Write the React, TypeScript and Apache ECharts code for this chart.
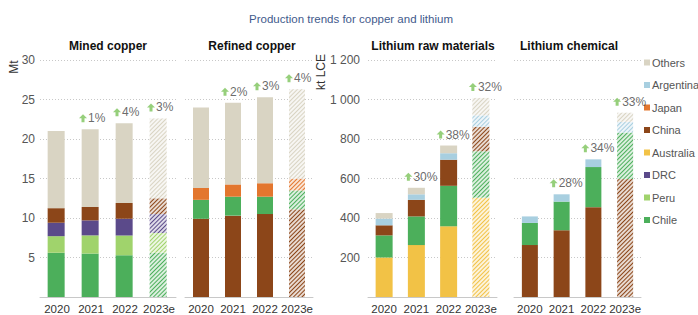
import React, { useEffect, useRef } from "react";
import * as echarts from "echarts";

const years = ["2020", "2021", "2022", "2023e"];

// Mined copper (Mt)
const minedChile = [5.6, 5.5, 5.3, 5.6];
const minedPeru = [2.1, 2.3, 2.5, 2.5];
const minedDRC = [1.7, 1.9, 2.1, 2.4];
const minedChina = [1.85, 1.7, 2.0, 2.0];
const minedOthers = [9.75, 9.85, 10.1, 10.1];
const minedGrowth = ["", "1%", "4%", "3%"];

// Refined copper (Mt)
const refinedChina = [9.9, 10.3, 10.5, 11.1];
const refinedChile = [2.4, 2.4, 2.2, 2.4];
const refinedJapan = [1.5, 1.55, 1.7, 1.5];
const refinedOthers = [10.2, 10.35, 10.9, 11.3];
const refinedGrowth = ["", "2%", "3%", "4%"];

// Lithium raw materials (kt LCE)
const rawAustralia = [200, 263, 358, 503];
const rawChile = [112, 145, 205, 235];
const rawChina = [51, 84, 132, 124];
const rawArgentina = [34, 28, 33, 58];
const rawOthers = [28, 33, 39, 88];
const rawGrowth = ["", "30%", "38%", "32%"];

// Lithium chemical (kt LCE)
const chemChina = [263, 338, 455, 597];
const chemChile = [112, 145, 203, 236];
const chemArgentina = [33, 37, 39, 54];
const chemOthers = [0, 0, 0, 46];
const chemGrowth = ["", "28%", "34%", "33%"];

const panelTitles = ["Mined copper", "Refined copper", "Lithium raw materials", "Lithium chemical"];
const legendOrder = ["Others", "Argentina", "Japan", "China", "Australia", "DRC", "Peru", "Chile"];

const COLORS: Record<string, string> = {
  Others: "#d9d4c3",
  Argentina: "#a8cfe0",
  Japan: "#e3762e",
  China: "#8c4619",
  Australia: "#f2c246",
  DRC: "#5b4a8a",
  Peru: "#a0d36c",
  Chile: "#4caf5b",
};

const FONT = "Liberation Sans, Arial, sans-serif";

function tint(hex: string, w: number) {
  const n = parseInt(hex.slice(1), 16);
  const r = (n >> 16) & 255, g = (n >> 8) & 255, b = n & 255;
  const m = (c: number) => Math.round(c + (255 - c) * w);
  return `rgb(${m(r)},${m(g)},${m(b)})`;
}

function barSeries(name: string, values: number[], panel: number, barWidth: number) {
  const color = COLORS[name];
  return {
    type: "bar",
    name,
    xAxisIndex: panel,
    yAxisIndex: panel,
    stack: "p" + panel,
    barWidth,
    itemStyle: { color },
    data: values.map((v, i) =>
      i === 3
        ? {
            value: v,
            itemStyle: {
              color: tint(color, 0.8),
              decal: {
                symbol: "rect",
                symbolSize: 1,
                dashArrayX: [1, 0],
                dashArrayY: [1, 2],
                rotation: -Math.PI / 4,
                color,
                backgroundColor: null,
              },
            },
          }
        : v
    ),
  };
}

function growthSeries(panel: number, stacks: number[][], growth: string[]) {
  const totals = years.map((_, i) => stacks.reduce((s, arr) => s + arr[i], 0));
  return {
    type: "scatter",
    name: "growth" + panel,
    xAxisIndex: panel,
    yAxisIndex: panel,
    symbol: "path://M4,0 L8,4 L5.5,4 L5.5,8 L2.5,8 L2.5,4 L0,4 Z",
    symbolSize: [8, 8],
    symbolOffset: [-8, -11],
    itemStyle: { color: "#7cc35a" },
    z: 5,
    label: {
      show: true,
      position: "right",
      distance: 1,
      color: "#444",
      fontSize: 12,
      fontFamily: FONT,
    },
    data: years
      .map((_, i) => (growth[i] ? { value: [i, totals[i]], label: { formatter: growth[i] } } : null))
      .filter((d) => d !== null),
  };
}

export default function App() {
  const ref = useRef<HTMLDivElement>(null);
  useEffect(() => {
    if (!ref.current) return;
    const chart = echarts.init(ref.current, undefined, { renderer: "svg" });

    const grids = [
      { left: 40, top: 60, width: 136, height: 240 },
      { left: 185, top: 60, width: 128, height: 240 },
      { left: 368, top: 60, width: 129, height: 240 },
      { left: 514, top: 60, width: 127, height: 240 },
    ];
    const titleX = [108, 252, 433, 569];

    const fmtThousands = (v: number) => {
      if (v === 0) return "";
      if (v >= 1000) return `${Math.floor(v / 1000)} ${String(v % 1000).padStart(3, "0")}`;
      return String(v);
    };

    const yAxes = grids.map((_, i) => ({
      type: "value",
      gridIndex: i,
      min: 0,
      max: i < 2 ? 30 : 1200,
      interval: i < 2 ? 5 : 200,
      axisLine: { show: false },
      axisTick: { show: false },
      axisLabel: {
        show: i === 0 || i === 2,
        showMaxLabel: true,
        hideOverlap: false,
        color: "#555",
        fontSize: 12,
        fontFamily: FONT,
        margin: i === 0 ? 5 : 8,
        formatter: fmtThousands,
      },
      splitLine: { lineStyle: { color: "#c8c8c8", type: [1, 2], width: 1 } },
    }));

    const xAxes = grids.map((_, i) => ({
      type: "category",
      gridIndex: i,
      data: years,
      axisTick: { show: false },
      axisLine: { lineStyle: { color: "#c8c8c8" } },
      axisLabel: { color: "#333", fontSize: 11.5, fontFamily: FONT, margin: 6, interval: 0 },
    }));

    const series: any[] = [
      barSeries("Chile", minedChile, 0, 17),
      barSeries("Peru", minedPeru, 0, 17),
      barSeries("DRC", minedDRC, 0, 17),
      barSeries("China", minedChina, 0, 17),
      barSeries("Others", minedOthers, 0, 17),
      growthSeries(0, [minedChile, minedPeru, minedDRC, minedChina, minedOthers], minedGrowth),

      barSeries("China", refinedChina, 1, 16),
      barSeries("Chile", refinedChile, 1, 16),
      barSeries("Japan", refinedJapan, 1, 16),
      barSeries("Others", refinedOthers, 1, 16),
      growthSeries(1, [refinedChina, refinedChile, refinedJapan, refinedOthers], refinedGrowth),

      barSeries("Australia", rawAustralia, 2, 17),
      barSeries("Chile", rawChile, 2, 17),
      barSeries("China", rawChina, 2, 17),
      barSeries("Argentina", rawArgentina, 2, 17),
      barSeries("Others", rawOthers, 2, 17),
      growthSeries(2, [rawAustralia, rawChile, rawChina, rawArgentina, rawOthers], rawGrowth),

      barSeries("China", chemChina, 3, 16),
      barSeries("Chile", chemChile, 3, 16),
      barSeries("Argentina", chemArgentina, 3, 16),
      barSeries("Others", chemOthers, 3, 16),
      growthSeries(3, [chemChina, chemChile, chemArgentina, chemOthers], chemGrowth),
      // empty series so every legend entry exists
      ...legendOrder.map((n) => ({
        type: "bar",
        name: n,
        xAxisIndex: 0,
        yAxisIndex: 0,
        itemStyle: { color: COLORS[n] },
        data: [],
      })),
    ];

    chart.setOption({
      animation: false,
      textStyle: { fontFamily: FONT },
      grid: grids,
      xAxis: xAxes,
      yAxis: yAxes,
      legend: {
        orient: "vertical",
        left: 644,
        top: 57,
        itemWidth: 6,
        itemHeight: 6,
        itemGap: 11.5,
        icon: "rect",
        selectedMode: false,
        padding: 0,
        textStyle: { color: "#555", fontSize: 11, fontFamily: FONT, padding: [0, 0, 0, -3] },
        data: legendOrder,
      },
      graphic: [
        {
          type: "text",
          x: 351,
          y: 19,
          style: {
            text: "Production trends for copper and lithium",
            align: "center",
            verticalAlign: "middle",
            font: `11.5px ${FONT}`,
            fill: "#3f5a8c",
          },
        },
        ...panelTitles.map((t, i) => ({
          type: "text",
          x: titleX[i],
          y: 46,
          style: {
            text: t,
            align: "center",
            verticalAlign: "middle",
            font: `bold 12px ${FONT}`,
            fill: "#111",
          },
        })),
        {
          type: "text",
          x: 14,
          y: 67,
          rotation: Math.PI / 2,
          style: { text: "Mt", align: "center", verticalAlign: "middle", font: `12px ${FONT}`, fill: "#333" },
        },
        {
          type: "text",
          x: 321,
          y: 72,
          rotation: Math.PI / 2,
          style: { text: "kt LCE", align: "center", verticalAlign: "middle", font: `12px ${FONT}`, fill: "#333" },
        },
      ],
      series,
    });
    return () => chart.dispose();
  }, []);
  return (
    <div
      ref={ref}
      style={{ position: "fixed", left: 0, top: 0, width: 698, height: 315, background: "#fff" }}
    />
  );
}
